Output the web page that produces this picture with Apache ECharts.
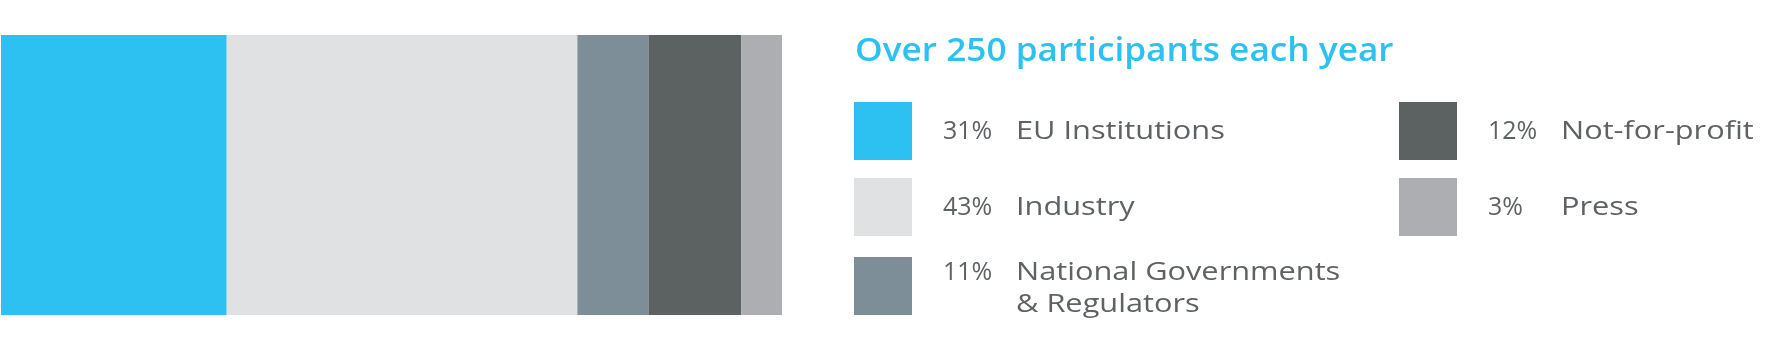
<!DOCTYPE html>
<html>
<head>
<meta charset="utf-8">
<script src="https://cdn.jsdelivr.net/npm/echarts@6/dist/echarts.min.js"></script>
<style>
html,body{margin:0;padding:0;background:#fff;}
#c{width:1772px;height:362px;}
</style>
</head>
<body>
<div id="c"></div>
<script>
// ---- data ----
const categories = ['EU Institutions', 'Industry', 'National Governments\n& Regulators', 'Not-for-profit', 'Press'];
// share of bar length as drawn (percent of total bar)
const barShares = [28.9, 44.9, 9.1, 11.9, 5.2];
// percentages printed in the legend
const labelPct = ['31%', '43%', '11%', '12%', '3%'];
const title = 'Over 250 participants each year';
const colors = ['#2dc1f1', '#e0e1e3', '#7d8e98', '#5c6162', '#adaeb1'];

// ---- layout ----
const chart = echarts.init(document.getElementById('c'));
const series = categories.map((name, i) => ({
  name: name,
  type: 'bar',
  stack: 'all',
  barWidth: '100%',
  itemStyle: { color: colors[i] },
  data: [barShares[i]],
  silent: true
}));

const textColor = '#5f6264';
const font = '"Open Sans", sans-serif';
const colX = [854, 1399];
const rowTop = [102, 178, 257];
const graphics = [{
  type: 'text', x: 855, y: 52, scaleX: 1.1,
  style: { text: title, fill: '#2dc1f1', font: '600 32px ' + font, verticalAlign: 'middle' }
}];
categories.forEach((name, i) => {
  const col = i < 3 ? 0 : 1, row = i < 3 ? i : i - 3;
  const x = colX[col], y = rowTop[row];
  const multi = name.indexOf('\n') >= 0;
  graphics.push({ type: 'rect', shape: { x: x, y: y, width: 58, height: 58 }, style: { fill: colors[i] } });
  const cy = y + 29 + (multi ? 3 : 1);
  const firstLineY = multi ? cy - 15.75 : cy;
  graphics.push({ type: 'text', x: x + 89, y: firstLineY,
    style: { text: labelPct[i], fill: textColor, font: '25px ' + font, verticalAlign: 'middle' } });
  graphics.push({ type: 'text', x: x + 162, y: cy, scaleX: 1.23,
    style: { text: name, fill: textColor, font: '25px ' + font, verticalAlign: 'middle', lineHeight: 31.5 } });
});

chart.setOption({
  animation: false,
  grid: { left: 1, right: 1772 - 782, top: 35, bottom: 362 - 315, containLabel: false },
  xAxis: { type: 'value', min: 0, max: 100, show: false },
  yAxis: { type: 'category', data: ['participants'], show: false },
  series: series,
  graphic: graphics
});
</script>
</body>
</html>
